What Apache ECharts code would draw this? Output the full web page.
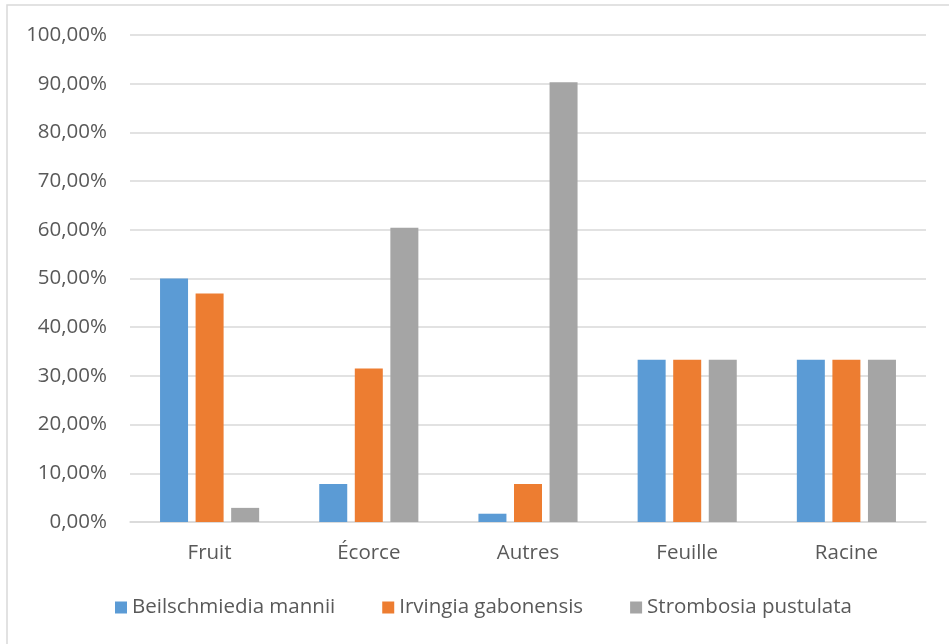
<!DOCTYPE html>
<html>
<head>
<meta charset="utf-8">
<script src="https://cdn.jsdelivr.net/npm/echarts@6/dist/echarts.min.js"></script>
<style>
html,body{margin:0;padding:0;background:#fff;}
#chart{width:949px;height:644px;}
</style>
</head>
<body>
<div id="chart"></div>
<script>
const categories = ['Fruit', 'Écorce', 'Autres', 'Feuille', 'Racine'];
const seriesNames = ['Beilschmiedia mannii', 'Irvingia gabonensis', 'Strombosia pustulata'];
const beilschmiedia = [0.500, 0.078, 0.017, 0.3333, 0.3333];
const irvingia = [0.469, 0.315, 0.078, 0.3333, 0.3333];
const strombosia = [0.029, 0.604, 0.903, 0.3333, 0.3333];
const colors = ['#5B9BD5', '#ED7D31', '#A5A5A5'];

const chart = echarts.init(document.getElementById('chart'), null, {renderer: 'canvas'});
const font = '"Open Sans", "Noto Sans", sans-serif';
const values = [beilschmiedia, irvingia, strombosia];

chart.setOption({
  animation: false,
  backgroundColor: '#ffffff',
  graphic: [{
    type: 'rect',
    shape: {x: 7, y: 5, width: 1000, height: 700},
    style: {fill: 'none', stroke: '#d9d9d9', lineWidth: 1.5},
    silent: true
  }],
  grid: {left: 130, right: 23, top: 35, bottom: 122, containLabel: false},
  legend: {
    left: 115,
    top: 597,
    padding: 0,
    itemWidth: 12,
    itemHeight: 12,
    itemGap: 47,
    icon: 'rect',
    textStyle: {fontFamily: font, fontSize: 20.5, color: '#595959'},
    data: seriesNames
  },
  xAxis: {
    type: 'category',
    data: categories,
    axisLine: {lineStyle: {color: '#d9d9d9', width: 1.5}},
    axisTick: {show: false},
    axisLabel: {fontFamily: font, fontSize: 20.5, color: '#595959', margin: 21}
  },
  yAxis: {
    type: 'value',
    min: 0,
    max: 1,
    interval: 0.1,
    axisLine: {show: false},
    axisTick: {show: false},
    splitLine: {lineStyle: {color: '#d9d9d9', width: 1.5}},
    axisLabel: {
      fontFamily: font, fontSize: 20.5, color: '#595959', margin: 23,
      formatter: v => (v * 100).toFixed(2).replace('.', ',') + '%'
    }
  },
  series: seriesNames.map((name, i) => ({
    name: name,
    type: 'bar',
    data: values[i],
    barWidth: 28,
    barGap: '27%',
    itemStyle: {color: colors[i]}
  }))
});
</script>
</body>
</html>
